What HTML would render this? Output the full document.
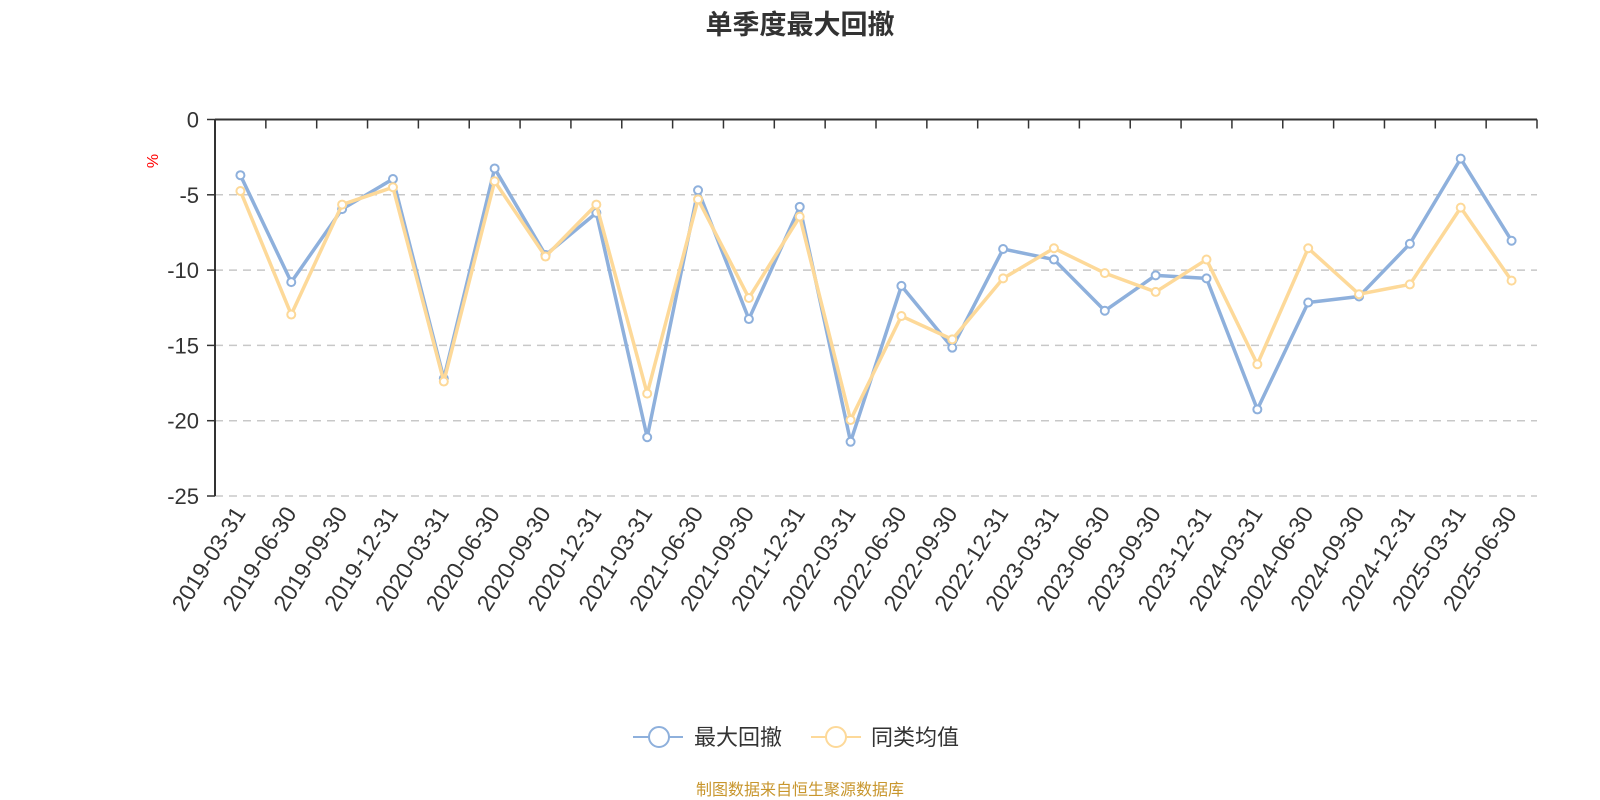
<!DOCTYPE html>
<html><head><meta charset="utf-8"><style>
html,body{margin:0;padding:0;background:#fff;}
svg{display:block;font-family:"Liberation Sans","Noto Sans CJK SC",sans-serif;}
</style></head><body>
<svg id="chart" width="1600" height="800" viewBox="0 0 1600 800">
<text x="800" y="34" text-anchor="middle" font-size="27" font-weight="bold" fill="#333">单季度最大回撤</text>
<text transform="translate(158,161) rotate(-90)" text-anchor="middle" font-size="16" fill="#ff0000">%</text>
<g id="grid"></g>
<g id="axes"></g>
<g id="series"></g>
<g>
<g>
<line x1="633" y1="737" x2="683" y2="737" stroke="#8eb0dc" stroke-width="2"/>
<circle cx="659" cy="737" r="10" fill="#fff" stroke="#8eb0dc" stroke-width="2"/>
<text x="694" y="745" font-size="22" fill="#333">最大回撤</text>
</g>
<g>
<line x1="811" y1="737" x2="861" y2="737" stroke="#fdd999" stroke-width="2"/>
<circle cx="836" cy="737" r="10" fill="#fff" stroke="#fdd999" stroke-width="2"/>
<text x="871" y="745" font-size="22" fill="#333">同类均值</text>
</g>
</g>
<text x="800" y="795" text-anchor="middle" font-size="16" fill="#c8962d">制图数据来自恒生聚源数据库</text>
</svg>
<script>
const categories=["2019-03-31","2019-06-30","2019-09-30","2019-12-31","2020-03-31","2020-06-30","2020-09-30","2020-12-31","2021-03-31","2021-06-30","2021-09-30","2021-12-31","2022-03-31","2022-06-30","2022-09-30","2022-12-31","2023-03-31","2023-06-30","2023-09-30","2023-12-31","2024-03-31","2024-06-30","2024-09-30","2024-12-31","2025-03-31","2025-06-30"];
const maxDrawdown=[-3.7,-10.8,-5.95,-3.95,-17.2,-3.25,-9.0,-6.2,-21.1,-4.7,-13.25,-5.8,-21.4,-11.05,-15.15,-8.6,-9.3,-12.7,-10.35,-10.55,-19.25,-12.15,-11.75,-8.25,-2.6,-8.05];
const peerAverage=[-4.75,-12.95,-5.65,-4.5,-17.4,-4.1,-9.1,-5.65,-18.2,-5.3,-11.85,-6.45,-19.95,-13.05,-14.6,-10.55,-8.55,-10.2,-11.45,-9.3,-16.25,-8.55,-11.6,-10.95,-5.85,-10.7];
const yTicks=[0,-5,-10,-15,-20,-25];

const NS="http://www.w3.org/2000/svg";
const L=215,R=1537,T=119.5,B=496,YMIN=-25,YMAX=0;
const bw=(R-L)/categories.length;
function xPos(i){return L+bw*(i+0.5);}
function yPos(v){return T+(YMAX-v)/(YMAX-YMIN)*(B-T);}
function mk(tag,attrs,parent){const e=document.createElementNS(NS,tag);for(const k in attrs)e.setAttribute(k,attrs[k]);parent.appendChild(e);return e;}
const grid=document.getElementById('grid'),axes=document.getElementById('axes'),series=document.getElementById('series');

yTicks.forEach(t=>{
  const y=yPos(t);
  if(t!==0){
    const g=mk('line',{x1:L,x2:R,y1:y,y2:y,stroke:'#c8c8c8','stroke-width':1.5,'stroke-dasharray':'8,6'},grid);
    
    
  }
  const tk=mk('line',{x1:L-8,x2:L,y1:y,y2:y,stroke:'#333','stroke-width':1.5},axes);
  
  
  const tx=mk('text',{x:L-16,y:y+8,'text-anchor':'end','font-size':22,fill:'#333'},axes);
  tx.textContent=t;
  
  
});
const ya=mk('line',{x1:L,x2:L,y1:T,y2:B,stroke:'#333','stroke-width':2},axes);


const xa=mk('line',{x1:L,x2:R,y1:T,y2:T,stroke:'#333','stroke-width':2},axes);


for(let i=0;i<=categories.length;i++){
  const x=L+bw*i;
  const tk=mk('line',{x1:x,x2:x,y1:T,y2:T+9,stroke:'#333','stroke-width':1.5},axes);
  
  
}
categories.forEach((c,i)=>{
  const x=xPos(i)+6,y=B+17;
  const tx=mk('text',{x:x,y:y,'text-anchor':'end','font-size':23,fill:'#333',transform:`rotate(-58 ${x} ${y})`},axes);
  tx.textContent=c;
  
  
});

function drawSeries(vals,color,name){
  const g=mk('g',{},series);
  
  
  const pts=vals.map((v,i)=>xPos(i)+','+yPos(v)).join(' ');
  const pl=mk('polyline',{points:pts,fill:'none',stroke:color,'stroke-width':3.5,'stroke-linejoin':'round'},g);
  
  
  vals.forEach((v,i)=>{
    const c=mk('circle',{cx:xPos(i),cy:yPos(v),r:4,fill:'#fff',stroke:color,'stroke-width':2},g);
    
    
  });
}
drawSeries(maxDrawdown,'#8eb0dc','max-drawdown-series');
drawSeries(peerAverage,'#fdd999','peer-average-series');
</script>
</body></html>
